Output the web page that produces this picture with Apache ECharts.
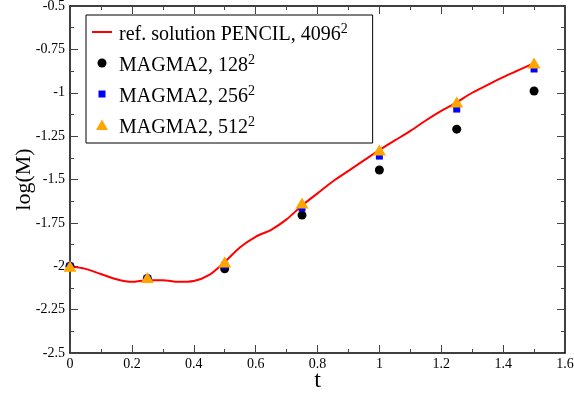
<!DOCTYPE html>
<html>
<head>
<meta charset="utf-8">
<script src="https://cdn.jsdelivr.net/npm/echarts@6/dist/echarts.min.js"></script>
<style>html,body{margin:0;padding:0;background:#fff;}#c{width:574px;height:394px;}</style>
</head>
<body>
<div id="c"></div>
<script>
var curveT = [0,0.05,0.1,0.15,0.2,0.25,0.3,0.35,0.4,0.45,0.5,0.55,0.6,0.65,0.7,0.75,0.8,0.85,0.9,0.95,1.0,1.05,1.1,1.15,1.2,1.25,1.3,1.35,1.4,1.45,1.5];
var curveY = [-2.0,-2.015,-2.045,-2.075,-2.09,-2.08,-2.08,-2.09,-2.085,-2.05,-1.975,-1.89,-1.83,-1.79,-1.73,-1.65,-1.58,-1.51,-1.45,-1.39,-1.33,-1.275,-1.22,-1.16,-1.105,-1.055,-1.0,-0.955,-0.91,-0.87,-0.83];
var pointT = [0,0.25,0.5,0.75,1.0,1.25,1.5];
var m128 = [-2.0,-2.07,-2.015,-1.705,-1.445,-1.21,-0.99];
var m256 = [-2.0,-2.07,-1.995,-1.664,-1.365,-1.094,-0.863];
var m512 = [-2.0,-2.065,-1.975,-1.635,-1.33,-1.053,-0.829];
var names = ['ref. solution PENCIL, 4096','MAGMA2, 128','MAGMA2, 256','MAGMA2, 512'];

function pairs(xs, ys){ return xs.map(function(x,i){ return [x, ys[i]]; }); }

var FONT = 'Liberation Serif';
function axisBase(pos, showLabel){
  return {
    type:'value', position: pos,
    axisLine:{show:true, onZero:false, lineStyle:{color:'#000', width:1.5}},
    axisTick:{show:true, inside:true, length:8, lineStyle:{color:'#444', width:1}},
    minorTick:{show:true, splitNumber:2, length:4, lineStyle:{color:'#444', width:1}},
    splitLine:{show:false},
    axisLabel:{show:showLabel, color:'#000', fontFamily:FONT, fontSize:14}
  };
}
var xB = axisBase('bottom', true);
xB.min = 0; xB.max = 1.6; xB.interval = 0.2;
xB.name = 't'; xB.nameLocation = 'middle'; xB.nameGap = 16; xB.nameMoveOverlap = false;
xB.nameTextStyle = {fontFamily:FONT, fontSize:24, color:'#000'};
xB.axisLabel.margin = 4;
var xT = axisBase('top', false);
xT.min = 0; xT.max = 1.6; xT.interval = 0.2;
var yL = axisBase('left', true);
yL.min = -2.5; yL.max = -0.5; yL.interval = 0.25;
yL.name = 'log(M)'; yL.nameLocation = 'middle'; yL.nameGap = 35; yL.nameMoveOverlap = false;
yL.nameTextStyle = {fontFamily:FONT, fontSize:22, color:'#000'};
yL.axisLabel.margin = 5;
var yR = axisBase('right', false);
yR.min = -2.5; yR.max = -0.5; yR.interval = 0.25;

var chart = echarts.init(document.getElementById('c'), null, {renderer:'canvas'});
chart.setOption({
  animation:false,
  backgroundColor:'#fff',
  grid:{left:70, right:9, top:6, bottom:41, containLabel:false, outerBoundsMode:'none'},
  xAxis:[xB, xT],
  yAxis:[yL, yR],
  legend:{
    orient:'vertical', left:86, top:15,
    backgroundColor:'#fff', borderColor:'#000', borderWidth:1,
    padding:[4,25,2,6], itemGap:2, itemWidth:20, itemHeight:14,
    symbolKeepAspect:true,
    data:[
      {name:names[0], icon:'path://M0,0 M20,14 M0,6 L20,6 L20,8 L0,8 Z', itemStyle:{color:'#ff0000'}},
      {name:names[1], icon:'path://M0,0 M14,14 M2.5,7 A4.5,4.5 0 1 1 11.5,7 A4.5,4.5 0 1 1 2.5,7 Z', itemStyle:{color:'#000'}},
      {name:names[2], icon:'path://M0,0 M14,14 M3.5,3.5 L10.5,3.5 L10.5,10.5 L3.5,10.5 Z', itemStyle:{color:'#0000ff'}},
      {name:names[3], icon:'path://M0,0 M14,14 M1,12 L7,1.5 L13,12 Z', itemStyle:{color:'#ffa500'}}
    ],
    formatter:function(n){ return '{a|' + n + '}{s|2}'; },
    textStyle:{
      color:'#000',
      rich:{
        a:{fontFamily:FONT, fontSize:20, lineHeight:20, color:'#000', padding:[6,0,0,2]},
        s:{fontFamily:FONT, fontSize:14, lineHeight:14, verticalAlign:'top', color:'#000', padding:[0,0,12,0]}
      }
    }
  },
  series:[
    {name:names[0], type:'line', data:pairs(curveT, curveY), smooth:0.3, showSymbol:false, symbol:'none',
     lineStyle:{color:'#ff0000', width:2}, itemStyle:{color:'#ff0000'}, z:1},
    {name:names[1], type:'scatter', data:pairs(pointT, m128), symbol:'circle', symbolSize:9,
     itemStyle:{color:'#000', opacity:1}, z:2},
    {name:names[2], type:'scatter', data:pairs(pointT, m256), symbol:'rect', symbolSize:7,
     itemStyle:{color:'#0000ff', opacity:1}, z:3},
    {name:names[3], type:'scatter', data:pairs(pointT, m512), symbol:'triangle', symbolSize:[13,11],
     itemStyle:{color:'#ffa500', opacity:1}, z:4}
  ]
});
</script>
</body>
</html>
